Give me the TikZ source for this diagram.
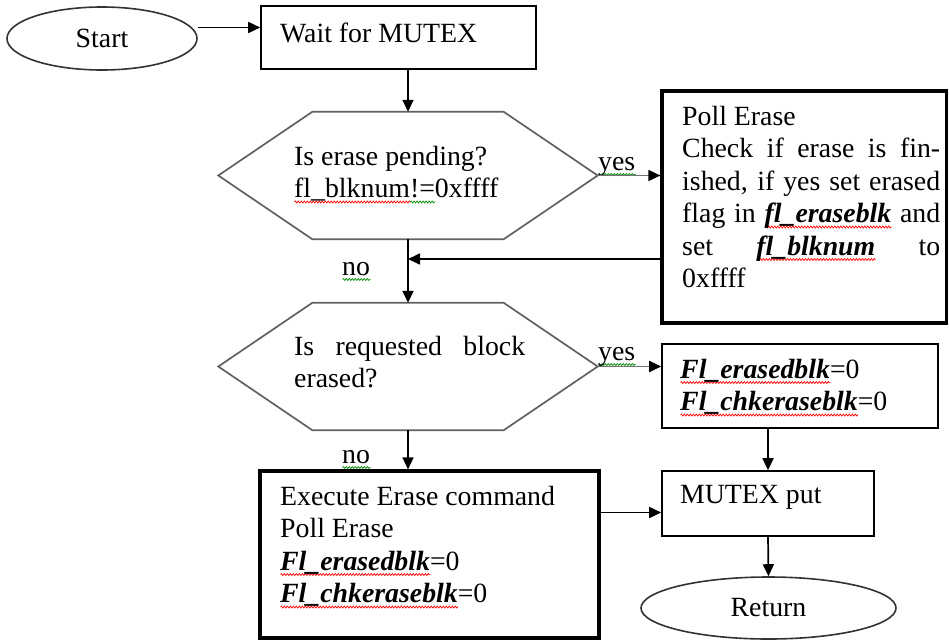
\documentclass[tikz,border=0pt]{standalone}
\usepackage{fontspec}
\setmainfont{Liberation Serif}
\usetikzlibrary{arrows.meta,shapes.geometric,calc,decorations.pathmorphing}
\newlength\sqlen
\newcommand\sq[2]{\leavevmode\settowidth\sqlen{#2}\rlap{\tikz[baseline=0pt,x=1pt,y=1pt]{\draw[color=#1,line width=0.7pt,decorate,decoration={zigzag,segment length=3pt,amplitude=1pt}] (0pt,-4.5pt) -- (\sqlen,-4.5pt);}}#2}
\newcommand\rsq[1]{\sq{red}{#1}}
\newcommand\gsq[1]{\sq{green!55!black}{#1}}
\newcommand\bfi[1]{\textbf{\textit{#1}}}
\begin{document}
\begin{tikzpicture}[x=1pt,y=-1pt,
  every node/.style={font=\fontsize{27.8}{32.5}\selectfont},
  box/.style={draw=black,line width=1.6pt,inner sep=0pt,minimum width=#1},
  thickbox/.style={draw=black,line width=3.2pt,inner sep=0pt,minimum width=#1},
  oval/.style={ellipse,draw=black!80,line width=1.6pt,inner sep=0pt,minimum width=#1},
  hexarea/.style={inner sep=0pt,minimum width=379pt,minimum height=127pt},
  hex/.style={draw=black!62,line width=1.7pt},
  arr/.style={draw=black,line width=1.7pt,-{Triangle[length=12pt,width=11pt]}},
  arrg/.style={draw=black!55,line width=1.8pt,-{Triangle[length=12pt,width=11pt,fill=black,color=black]}},
  txt/.style={anchor=base west,inner sep=0pt},
]
\useasboundingbox (0,0) rectangle (949,640);
\fill[white] (0,0) rectangle (949,640);

% nodes
\node[oval=190pt,minimum height=63pt] (start) at (102,38.5) {Start};
\node[box=275pt,minimum height=63pt] (wait) at (398.5,37.5) {};
\node[hexarea] (d1) at (408,175.5) {};
\node[thickbox=284.5pt,minimum height=232pt] (poll) at (804.25,207) {};
\node[hexarea] (d2) at (408,366.5) {};
\node[box=276pt,minimum height=84pt] (er) at (800,386) {};
\node[box=212pt,minimum height=65pt] (mutex) at (768,503.5) {};
\node[thickbox=339pt,minimum height=167pt] (exec) at (429.5,554.5) {};
\node[oval=255pt,minimum height=62pt] (ret) at (768.5,608) {Return};

% hexagons
\foreach \d in {d1,d2}{
  \draw[hex] ($(\d.north west)+(94,0)$) -- ($(\d.north east)+(-94,0)$) -- (\d.east)
    -- ($(\d.south east)+(-94,0)$) -- ($(\d.south west)+(94,0)$) -- (\d.west) -- cycle;
}

% texts
\node[txt] (twait) at (280,42) {Wait for MUTEX};
\node[txt] (td1) at (294,165) {\parbox[t]{240pt}{Is erase pending?\\
  \rsq{fl\_blknum}\gsq{!=}0xffff}};
\node[txt] (tpoll) at (682,125) {\parbox[t]{258pt}{Poll Erase\\
  \makebox[\linewidth][s]{Check if erase is fin-}\\
  \makebox[\linewidth][s]{ished, if yes set erased}\\
  \makebox[\linewidth][s]{flag in \rsq{\bfi{fl\_eraseblk}} and}\\
  \makebox[\linewidth][s]{set \rsq{\bfi{fl\_blknum}} to}\\
  0xffff}};
\node[txt] (td2) at (294,355) {\parbox[t]{231pt}{\makebox[\linewidth][s]{Is requested block}\\
  erased?}};
\node[txt] (ter) at (680,378) {\parbox[t]{250pt}{\rsq{\bfi{Fl\_erasedblk}}=0\\
  \rsq{\bfi{Fl\_chkeraseblk}}=0}};
\node[txt] (tmutex) at (680,503) {MUTEX put};
\node[txt] (texec) at (280,505) {\parbox[t]{300pt}{Execute Erase command\\
  Poll Erase\\
  \rsq{\bfi{Fl\_erasedblk}}=0\\
  \rsq{\bfi{Fl\_chkeraseblk}}=0}};

% labels
\node[txt] (yes1) at (598,170) {\gsq{yes}};
\node[txt] (no1) at (342,275) {\gsq{no}};
\node[txt] (yes2) at (598,360) {\gsq{yes}};
\node[txt] (no2) at (342,463) {\gsq{no}};

% connectors
\draw[arr] ([yshift=11pt]start.east) -- ([yshift=11pt]start.east -| wait.west);
\draw[arr] (wait.south -| d1.north) -- (d1.north);
\draw[arrg] (d1.east) -- (d1.east -| poll.west);
\coordinate (rt) at ([yshift=-52pt]poll.west);
\draw[arr] (rt) -- (rt -| d1.south);
\draw[arr] (d1.south) -- (d2.north);
\draw[arrg] (d2.east) -- (d2.east -| er.west);
\draw[arr] (d2.south) -- (d2.south |- exec.north);
\draw[arr] (er.south -| mutex.north) -- (mutex.north);
\coordinate (mx) at ([yshift=-9pt]mutex.west);
\draw[arr] (mx -| exec.east) -- (mx);
\draw[arr] (mutex.south) -- (ret.north);
\end{tikzpicture}
\end{document}
